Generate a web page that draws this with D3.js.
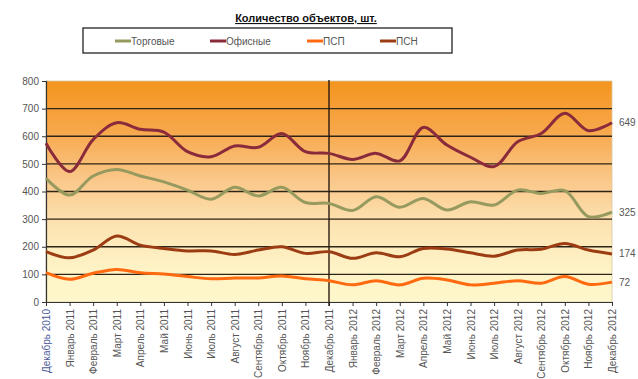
<!DOCTYPE html>
<html>
<head>
<meta charset="utf-8">
<script src="https://cdn.jsdelivr.net/npm/d3@7"></script>
<style>
  html, body { margin: 0; padding: 0; background: #ffffff; }
  svg { display: block; font-family: "Liberation Sans", Arial, sans-serif; }
</style>
</head>
<body>
<svg id="chart" width="638" height="379"></svg>
<script>
// Months, Dec 2010 – Dec 2012
const months = [
  "Декабрь 2010", "Январь 2011", "Февраль 2011", "Март 2011", "Апрель 2011", "Май 2011",
  "Июнь 2011", "Июль 2011", "Август 2011", "Сентябрь 2011", "Октябрь 2011", "Ноябрь 2011",
  "Декабрь 2011", "Январь 2012", "Февраль 2012", "Март 2012", "Апрель 2012", "Май 2012",
  "Июнь 2012", "Июль 2012", "Август 2012", "Сентябрь 2012", "Октябрь 2012", "Ноябрь 2012",
  "Декабрь 2012"
];

const seriesNames = ["Торговые", "Офисные", "ПСП", "ПСН"];

const torgovye = [448, 387, 456, 480, 456, 435, 405, 372, 415, 384, 415, 360,
                  357, 331, 381, 343, 375, 333, 363, 351, 405, 393, 403, 309, 325];
const ofisnye  = [575, 472, 588, 649, 625, 615, 544, 526, 565, 560, 610, 544,
                  538, 516, 538, 511, 632, 568, 524, 490, 580, 610, 683, 620, 649];
const psp      = [106, 82, 104, 118, 106, 101, 92, 84, 87, 87, 94, 84,
                  77, 62, 77, 62, 86, 80, 62, 68, 77, 68, 92, 64, 72];
const psn      = [182, 160, 188, 239, 206, 194, 185, 185, 172, 188, 200, 176,
                  182, 158, 178, 164, 194, 192, 178, 166, 188, 191, 212, 188, 174];

const yTicks = [0, 100, 200, 300, 400, 500, 600, 700, 800];
const dividerMonth = "Декабрь 2011";

const seriesValues = [torgovye, ofisnye, psp, psn];
const colors = ["#969a5e", "#8a2b3c", "#ff6a10", "#9c3c12"];

const svg = d3.select("#chart");
const margin = { left: 46, right: 612, top: 81, bottom: 302 };

const x = d3.scalePoint().domain(months).range([margin.left, margin.right]);
const y = d3.scaleLinear().domain([0, 800]).range([margin.bottom, margin.top]);

// Background gradient of the plot area
const defs = svg.append("defs");
const grad = defs.append("linearGradient")
  .attr("id", "bg").attr("x1", 0).attr("y1", 0).attr("x2", 0).attr("y2", 1);
[[0, "#f4941e"], [0.22, "#f7a74a"], [0.45, "#fac88a"], [0.65, "#fde3b2"], [0.85, "#fef3c6"], [1, "#fef7cc"]]
  .forEach(([o, c]) => grad.append("stop").attr("offset", o).attr("stop-color", c));

svg.append("rect")
  .attr("x", margin.left).attr("y", margin.top)
  .attr("width", margin.right - margin.left).attr("height", margin.bottom - margin.top)
  .attr("fill", "url(#bg)")
  .attr("stroke", "#d8c8a8").attr("stroke-width", 0.8);

// Horizontal grid lines
svg.append("g").selectAll("line")
  .data(yTicks.filter(t => t > 0 && t < 800))
  .join("line")
  .attr("x1", margin.left).attr("x2", margin.right)
  .attr("y1", d => y(d)).attr("y2", d => y(d))
  .attr("stroke", "#2f2418").attr("stroke-width", 1.3);

// Y axis
const yAxis = svg.append("g")
  .attr("transform", `translate(${margin.left},0)`)
  .call(d3.axisLeft(y).tickValues(yTicks).tickSize(4).tickPadding(3));
yAxis.select(".domain").attr("stroke", "#333").attr("stroke-width", 1.2);
yAxis.selectAll(".tick line").attr("stroke", "#333");
yAxis.selectAll("text").attr("fill", "#555").style("font-size", "10px");

// X axis
const xAxis = svg.append("g")
  .attr("transform", `translate(0,${margin.bottom})`)
  .call(d3.axisBottom(x).tickSize(4).tickSizeOuter(0));
xAxis.select(".domain").attr("stroke", "#333").attr("stroke-width", 1.2);
xAxis.selectAll(".tick line").attr("stroke", "#333");
xAxis.selectAll("text")
  .attr("fill", (d, i) => i === 0 ? "#4a5a9a" : "#555")
  .style("font-size", "10px")
  .attr("text-anchor", "end")
  .attr("transform", "rotate(-90)")
  .attr("x", -7).attr("y", 0).attr("dy", "0.35em");

// Divider at December 2011
svg.append("line")
  .attr("x1", x(dividerMonth)).attr("x2", x(dividerMonth))
  .attr("y1", margin.top - 1).attr("y2", margin.bottom + 4)
  .attr("stroke", "#2a1a10").attr("stroke-width", 1.4);

// Series lines
const line = d3.line()
  .x((d, i) => x(months[i]))
  .y(d => y(d))
  .curve(d3.curveCatmullRom.alpha(0.5));

svg.append("g").selectAll("path")
  .data(seriesValues)
  .join("path")
  .attr("d", d => line(d))
  .attr("fill", "none")
  .attr("stroke", (d, i) => colors[i])
  .attr("stroke-width", 3)
  .attr("stroke-linejoin", "round");

// End value labels
svg.append("g").selectAll("text")
  .data(seriesValues)
  .join("text")
  .attr("x", margin.right + 7)
  .attr("y", d => y(d[d.length - 1]))
  .attr("dy", "0.35em")
  .attr("fill", "#555")
  .style("font-size", "10px")
  .text(d => d[d.length - 1]);

// Title
svg.append("text")
  .attr("x", 306).attr("y", 22)
  .attr("text-anchor", "middle")
  .style("font-size", "11px").style("font-weight", "bold")
  .style("text-decoration", "underline")
  .attr("fill", "#111")
  .text("Количество объектов, шт.");

// Legend
svg.append("rect")
  .attr("x", 83).attr("y", 28).attr("width", 369).attr("height", 25)
  .attr("fill", "#fff").attr("stroke", "#222").attr("stroke-width", 1.3);

const legendX = [115, 210, 307, 380];
const lg = svg.append("g").selectAll("g")
  .data(seriesNames)
  .join("g")
  .attr("transform", (d, i) => `translate(${legendX[i]},41)`);
lg.append("line")
  .attr("x1", 0).attr("x2", 16).attr("y1", 0).attr("y2", 0)
  .attr("stroke", (d, i) => colors[i]).attr("stroke-width", 3);
lg.append("text")
  .attr("x", 16).attr("dy", "0.35em")
  .attr("fill", "#555")
  .style("font-size", "10px")
  .text(d => d);
</script>
</body>
</html>
